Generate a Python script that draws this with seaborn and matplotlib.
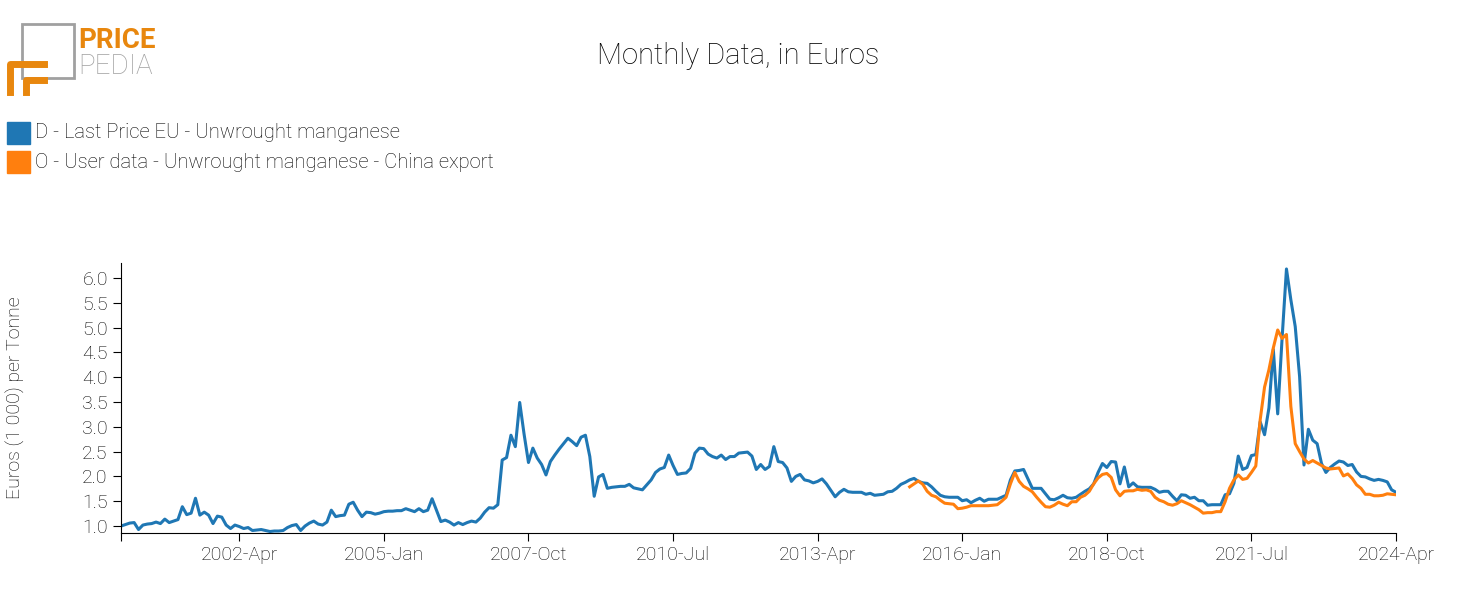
import matplotlib
matplotlib.use("Agg")
import matplotlib.pyplot as plt
import numpy as np
import pandas as pd
import seaborn as sns
from matplotlib.patches import Rectangle
from matplotlib.lines import Line2D

# monthly data, Jan 2000 .. Apr 2024
eu_price = [
    1.00, 1.03, 1.06, 1.07, 0.93, 1.02, 1.04, 1.05, 1.08, 1.05, 1.14, 1.07,
    1.10, 1.13, 1.39, 1.23, 1.26, 1.56, 1.22, 1.28, 1.22, 1.05, 1.20, 1.18,
    1.02, 0.95, 1.02, 0.99, 0.95, 0.97, 0.91, 0.92, 0.93, 0.91, 0.89, 0.90,
    0.90, 0.91, 0.97, 1.01, 1.03, 0.91, 1.00, 1.06, 1.10, 1.04, 1.02, 1.08,
    1.32, 1.19, 1.21, 1.22, 1.44, 1.48, 1.32, 1.19, 1.28, 1.27, 1.24, 1.26,
    1.29, 1.30, 1.30, 1.31, 1.31, 1.35, 1.32, 1.29, 1.35, 1.29, 1.32, 1.55,
    1.32, 1.09, 1.12, 1.08, 1.02, 1.07, 1.03, 1.07, 1.10, 1.08, 1.16, 1.28,
    1.37, 1.36, 1.43, 2.33, 2.38, 2.83, 2.60, 3.49, 2.85, 2.28, 2.57, 2.37,
    2.24, 2.03, 2.30, 2.43, 2.55, 2.66, 2.77, 2.70, 2.62, 2.79, 2.83, 2.40,
    1.60, 1.99, 2.04, 1.76, 1.78, 1.79, 1.80, 1.80, 1.84, 1.77, 1.75, 1.73,
    1.83, 1.93, 2.08, 2.15, 2.18, 2.43, 2.22, 2.04, 2.06, 2.07, 2.16, 2.47,
    2.57, 2.56, 2.45, 2.40, 2.37, 2.43, 2.34, 2.40, 2.40, 2.47, 2.48, 2.49,
    2.41, 2.14, 2.24, 2.14, 2.20, 2.60, 2.30, 2.28, 2.17, 1.90, 2.00, 2.04,
    1.93, 1.91, 1.87, 1.90, 1.95, 1.85, 1.72, 1.59, 1.68, 1.74, 1.69, 1.68,
    1.68, 1.68, 1.64, 1.66, 1.62, 1.63, 1.64, 1.69, 1.70, 1.76, 1.84, 1.88,
    1.93, 1.96, 1.90, 1.87, 1.86, 1.79, 1.70, 1.62, 1.59, 1.58, 1.58, 1.58,
    1.51, 1.53, 1.47, 1.52, 1.56, 1.50, 1.54, 1.54, 1.54, 1.58, 1.62, 1.93,
    2.11, 2.12, 2.14, 1.95, 1.76, 1.76, 1.76, 1.65, 1.54, 1.53, 1.57, 1.62,
    1.57, 1.56, 1.58, 1.64, 1.70, 1.75, 1.85, 2.08, 2.26, 2.18, 2.30, 2.29,
    1.85, 2.19, 1.79, 1.87, 1.79, 1.78, 1.78, 1.78, 1.74, 1.68, 1.70, 1.70,
    1.60, 1.51, 1.63, 1.62, 1.56, 1.58, 1.51, 1.51, 1.42, 1.43, 1.43, 1.43,
    1.63, 1.65, 1.86, 2.41, 2.14, 2.18, 2.42, 2.44, 3.10, 2.84, 3.38, 4.56,
    3.26, 4.78, 6.18, 5.56, 5.02, 4.01, 2.23, 2.95, 2.73, 2.66, 2.26, 2.08,
    2.18, 2.25, 2.31, 2.29, 2.22, 2.24, 2.09, 2.00, 1.99, 1.95, 1.92, 1.94,
    1.92, 1.89, 1.73, 1.68,
]
# China export series starts Jan 2015 (month index 180)
china_start = 180
china_export = [
    1.79, 1.85, 1.91, 1.84, 1.70, 1.62, 1.59, 1.52, 1.46, 1.45, 1.44, 1.35,
    1.36, 1.38, 1.41, 1.41, 1.41, 1.41, 1.41, 1.42, 1.43, 1.50, 1.58, 1.85,
    2.08, 1.90, 1.80, 1.75, 1.69, 1.58, 1.48, 1.39, 1.38, 1.42, 1.48, 1.44,
    1.41, 1.49, 1.49, 1.58, 1.62, 1.70, 1.85, 1.97, 2.04, 2.06, 1.98, 1.73,
    1.61, 1.70, 1.71, 1.71, 1.74, 1.72, 1.73, 1.70, 1.58, 1.52, 1.49, 1.44,
    1.42, 1.45, 1.51, 1.47, 1.43, 1.38, 1.33, 1.26, 1.27, 1.27, 1.29, 1.29,
    1.49, 1.76, 1.93, 2.03, 1.94, 1.96, 2.08, 2.21, 3.14, 3.80, 4.15, 4.59,
    4.95, 4.78, 4.86, 3.41, 2.66, 2.50, 2.35, 2.27, 2.32, 2.27, 2.22, 2.17,
    2.15, 2.16, 2.17, 2.01, 2.05, 1.96, 1.83, 1.76, 1.64, 1.64, 1.61, 1.61,
    1.62, 1.65, 1.64, 1.63,
]
series_names = [
    "D - Last Price EU - Unwrought manganese",
    "O - User data - Unwrought manganese - China export",
]
tick_months = [0, 27, 60, 93, 126, 159, 192, 225, 258, 291]
tick_labels = ["", "2002-Apr", "2005-Jan", "2007-Oct", "2010-Jul", "2013-Apr",
               "2016-Jan", "2018-Oct", "2021-Jul", "2024-Apr"]
y_ticks = [1.0, 1.5, 2.0, 2.5, 3.0, 3.5, 4.0, 4.5, 5.0, 5.5, 6.0]

colors = ["#1f77b4", "#ff7f0e"]
plt.rcParams["font.family"] = "Roboto"
plt.rcParams["font.weight"] = "light"
plt.rcParams["axes.labelweight"] = "light"
plt.rcParams["text.color"] = "black"
plt.rcParams["xtick.color"] = "black"
plt.rcParams["ytick.color"] = "black"

df = pd.concat([
    pd.DataFrame({"month": np.arange(len(eu_price)), "value": eu_price,
                  "series": series_names[0]}),
    pd.DataFrame({"month": np.arange(china_start, china_start + len(china_export)),
                  "value": china_export, "series": series_names[1]}),
])

fig = plt.figure(figsize=(14.77, 6.15), dpi=100)
ax = fig.add_axes([121 / 1477, 1 - 533 / 615, (1396 - 121) / 1477, 270 / 615])
sns.lineplot(data=df, x="month", y="value", hue="series", palette=colors,
             linewidth=2.2, legend=False, ax=ax)

ax.set_xlim(0, 291)
ax.set_ylim(0.86, 6.3)
ax.set_xticks(tick_months)
ax.set_xticklabels(tick_labels, fontsize=14)
ax.set_yticks(y_ticks)
ax.set_yticklabels([f"{v:.1f}" for v in y_ticks], fontsize=14)
ax.set_xlabel("")
ax.set_ylabel("Euros (1 000) per Tonne", fontsize=14, fontweight="light")
ax.yaxis.set_label_coords(-96 / 1275, 0.5)
ax.tick_params(length=6)
for s in ["top", "right"]:
    ax.spines[s].set_visible(False)

fig.text(0.5, 1 - 56 / 615, "Monthly Data, in Euros", ha="center", va="center", fontsize=21)

# legend with square markers
for i, name in enumerate(series_names):
    y = 1 - (133 + 29 * i) / 615
    fig.patches.append(Rectangle((7 / 1477, y - 11 / 615), 23 / 1477, 22 / 615,
                                 transform=fig.transFigure, color=colors[i]))
    fig.text(35 / 1477, y, name, va="center", fontsize=14.5)

# logo
fig.patches.append(Rectangle((22 / 1477, 1 - 78 / 615), 52 / 1477, 54 / 615,
                             transform=fig.transFigure, fill=False, ec="#a0a0a0", lw=2))
fig.lines.append(Line2D([10 / 1477, 10 / 1477, 44 / 1477], [1 - 92 / 615, 1 - 64 / 615, 1 - 64 / 615],
                        transform=fig.transFigure, color="#e8870e", lw=5))
fig.lines.append(Line2D([26 / 1477, 26 / 1477, 44 / 1477], [1 - 92 / 615, 1 - 80 / 615, 1 - 80 / 615],
                        transform=fig.transFigure, color="#e8870e", lw=5))
fig.text(78 / 1477, 1 - 40 / 615, "PRICE", fontsize=20, fontweight="bold", color="#e8870e", va="center")
fig.text(78 / 1477, 1 - 66 / 615, "PEDIA", fontsize=20, color="#a0a0a0", va="center")

fig.savefig("out.png", dpi=100)
